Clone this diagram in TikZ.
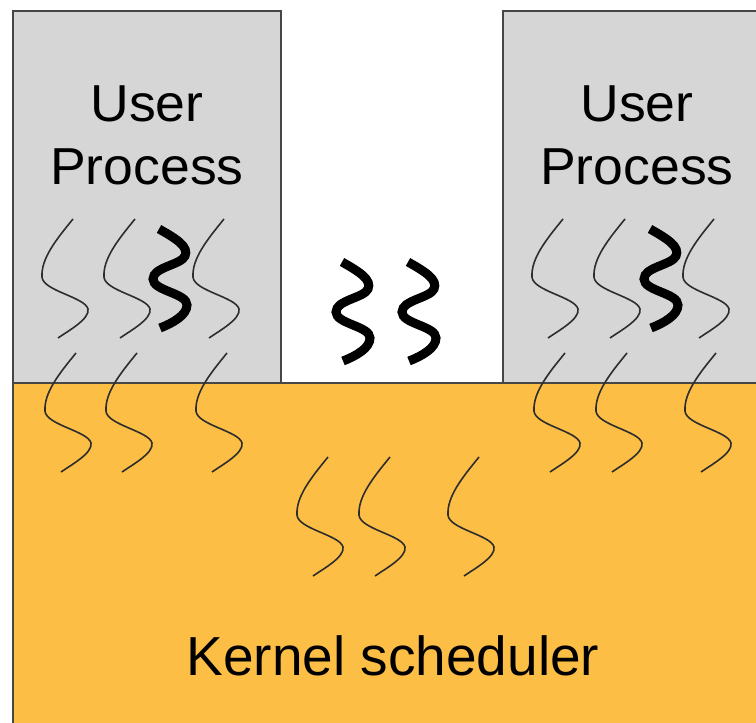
\documentclass[tikz,border=0pt]{standalone}
\usepackage{fontspec}
\setmainfont{Liberation Sans}
\definecolor{boxgray}{RGB}{214,214,214}
\definecolor{kernorange}{RGB}{253,190,69}
\definecolor{edgegray}{RGB}{70,70,70}
\definecolor{threadgray}{RGB}{45,45,45}
\tikzset{
  thinline/.style={draw=threadgray,line width=1.6pt},
  thickline/.style={draw=black,line width=9pt},
  thinsq/.pic={\path[thinline] (0,0) .. controls (-18,22) and (-32,40) .. (-31,58)
      .. controls (-30,72) and (12,78) .. (15,90)
      .. controls (17,100) and (-5,112) .. (-15,119);},
  thicksq/.pic={\path[thickline] (0,0) .. controls (18,10) and (30,18) .. (26,27)
      .. controls (22,36) and (-6,38) .. (-6,50)
      .. controls (-6,62) and (28,64) .. (28,76)
      .. controls (28,86) and (14,94) .. (1,99);},
  usertext/.style={font=\fontsize{52}{60}\selectfont,anchor=base,xscale=1.03,inner sep=0pt},
  kerntext/.style={font=\fontsize{55}{62}\selectfont,anchor=base,inner sep=0pt},
  edge/.style={draw=edgegray,line width=2pt}
}
\begin{document}
\begin{tikzpicture}[x=1pt,y=-1pt]
\useasboundingbox (0,0) rectangle (756,723);
% kernel box
\fill[kernorange] (13,383) rectangle (770,740);
\draw[edge] (13,740) -- (13,383) -- (770,383);
% user boxes
\filldraw[boxgray,edge] (13,11) rectangle (281,383);
\fill[boxgray] (503,11) rectangle (770,383);
\draw[edge] (503,383) -- (503,11) -- (770,11);
\draw[edge] (13,383) -- (770,383);
% texts
\node[usertext] (u1a) at (147,121) {User};
\node[usertext] (u1b) at (147,184) {Process};
\node[usertext] (u2a) at (637,121) {User};
\node[usertext] (u2b) at (637,184) {Process};
\node[kerntext] (kern) at (393,675) {Kernel scheduler};
% thin threads, user level
\foreach \x in {73,135,224,563,625,714} \pic at (\x,219) {thinsq};
% thin threads crossing into kernel
\foreach \x in {76,137,227,565,627,716} \pic at (\x,353) {thinsq};
% kernel threads
\foreach \x in {328,390,479} \pic at (\x,457) {thinsq};
% thick threads
\foreach \x/\y in {159/229,650/229,342/262,408/262} \pic at (\x,\y) {thicksq};
\end{tikzpicture}
\end{document}
